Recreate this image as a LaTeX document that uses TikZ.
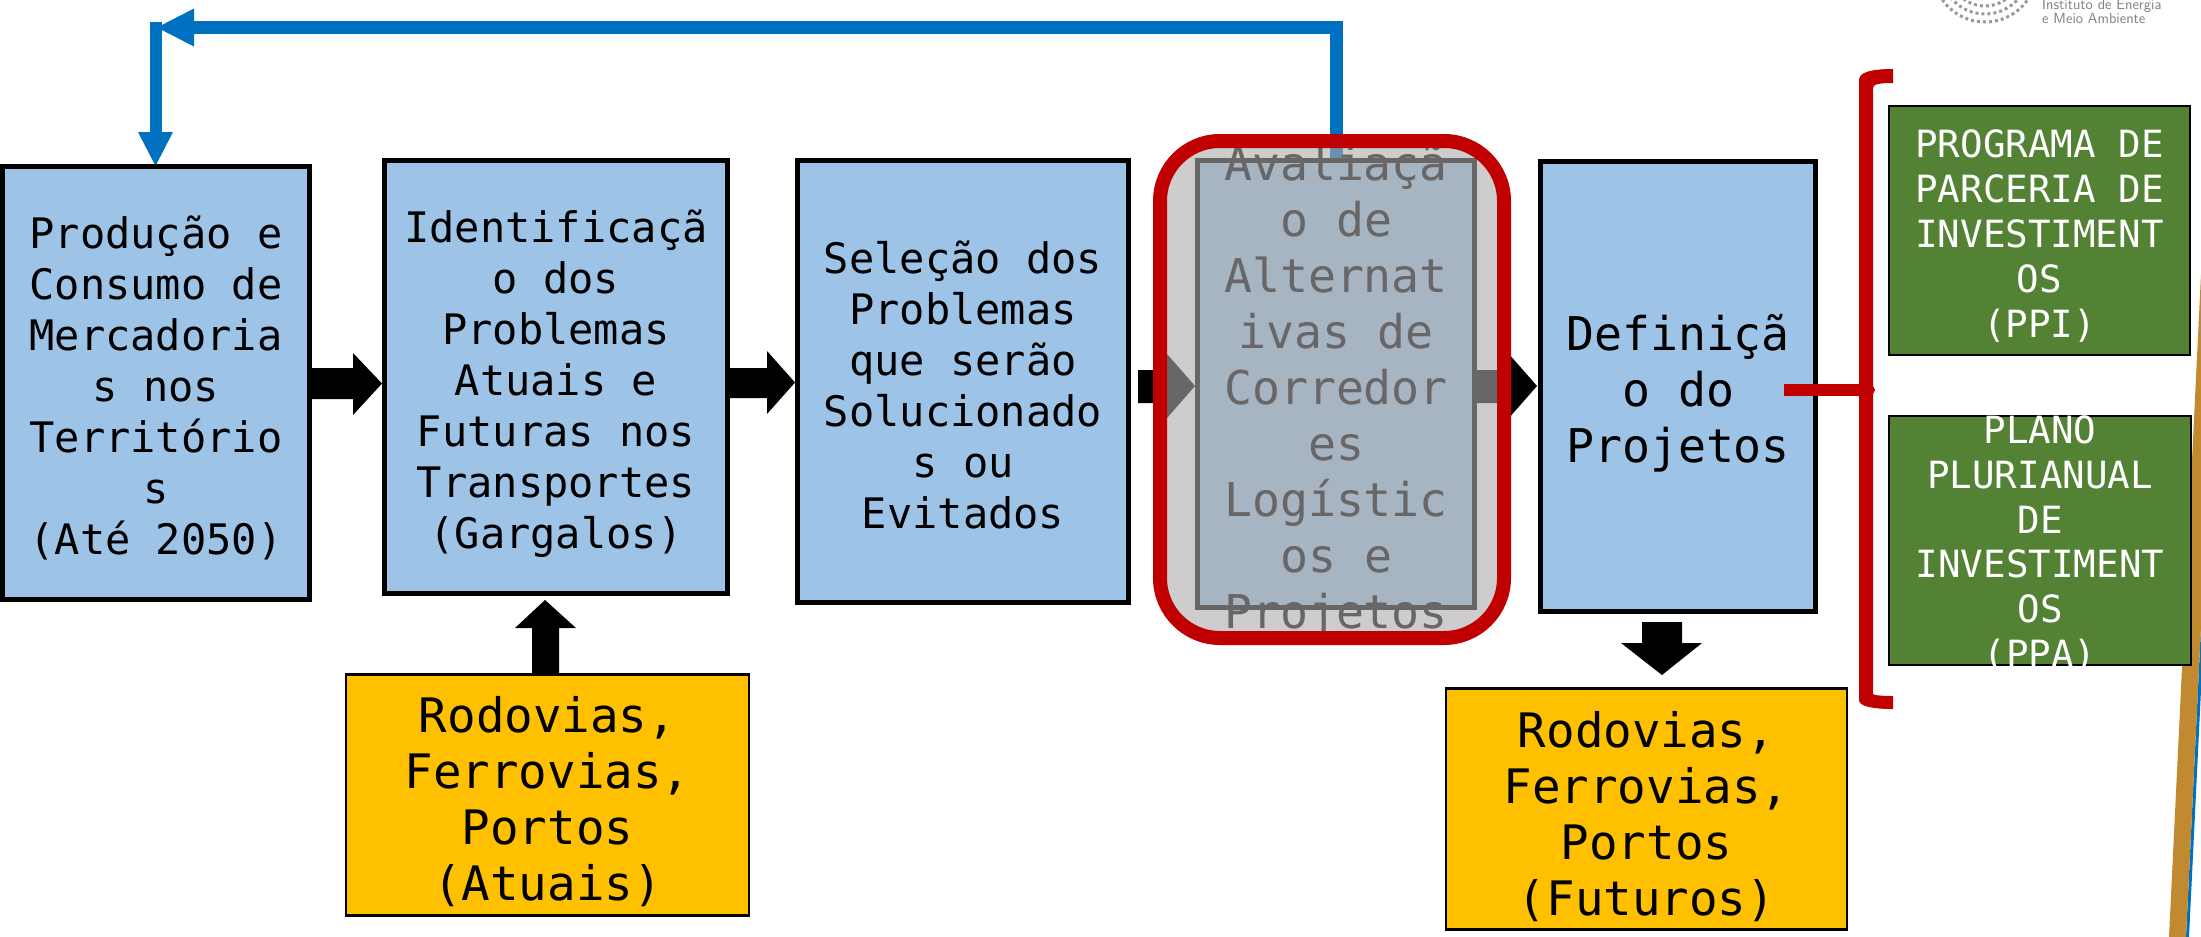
\documentclass[tikz,border=0pt]{standalone}
\usepackage{fontspec}
\setmonofont{DejaVu Sans Mono}
\usepackage{tikz}
\usetikzlibrary{positioning}

\definecolor{boxblue}{HTML}{9DC3E6}
\definecolor{boxgreen}{HTML}{548235}
\definecolor{boxyellow}{HTML}{FFC000}
\definecolor{loopblue}{HTML}{0070C0}
\definecolor{markred}{HTML}{C00000}
\definecolor{veilgray}{HTML}{AEAAAA}
\definecolor{stripbrown}{HTML}{C18A30}

\tikzset{
  etapa/.style={draw=black,line width=5pt,fill=boxblue,inner sep=0pt,outer sep=0pt,anchor=north west},
  fonte/.style={draw=black,line width=2.5pt,fill=boxyellow,inner sep=0pt,outer sep=0pt,anchor=north west},
  plano/.style={draw=black,line width=2.5pt,fill=boxgreen,inner sep=0pt,outer sep=0pt,anchor=north west},
  rotulo/.style={inner sep=0pt,align=center},
  rotuloetapa/.style={rotulo,font=\ttfamily\fontsize{42}{51}\selectfont},
  rotulogrande/.style={rotulo,font=\ttfamily\fontsize{46.5}{56}\selectfont},
  rotulofonte/.style={rotulo,font=\ttfamily\fontsize{47.5}{56}\selectfont},
  rotuloplano/.style={rotulo,text=white,font=\ttfamily\fontsize{37.5}{44.8}\selectfont},
  seta/.style={fill=black},
  volta/.style={draw=loopblue,line width=12.5pt},
  pontaazul/.style={fill=loopblue}
}

\begin{document}
\begin{tikzpicture}[x=1pt,y=-1pt]
\useasboundingbox (0,0) rectangle (2201,937);

% faixa da direita
\fill[loopblue] (2201,626) -- (2186,937) -- (2189,937) -- (2201,690) -- cycle;
\fill[stripbrown] (2201,274) -- (2169,937) -- (2186,937) -- (2201,626) -- cycle;

% logo
\foreach \r in {36,44,52}{
  \draw[gray!80,line width=3pt,dash pattern=on 3pt off 3pt] (1985,-30) ++(165:\r) arc (165:15:\r);
}
\node[text=gray,inner sep=0pt,anchor=north west,align=left,
  font=\sffamily\fontsize{14.8}{12.5}\selectfont] (logo) at (2042,-1) {Instituto de Energia\\e Meio Ambiente};

% retorno
\coordinate (cantoa) at (1336.5,27.5);
\draw[volta] (1336.5,161) -- (cantoa) -- (190,27.5);
\draw[volta] (156,22) -- (156,135);
\fill[pontaazul] (157,27.5) -- (194,8.5) -- (194,46.5) -- cycle;
\fill[pontaazul] (155.5,166) -- (138,132) -- (173,132) -- cycle;

% caixas
\node[etapa,minimum width=307pt,minimum height=433pt] (producao) at (2.5,166.5) {};
\node[rotuloetapa] (textoproducao) at ([yshift=-4.5pt]producao.center)
  {Produção e\\Consumo de\\Mercadoria\\s nos\\Território\\s\\(Até 2050)};
\node[etapa,minimum width=343pt,minimum height=433pt] (problemas) at (384.5,160.5) {};
\node[rotuloetapa] (textoproblemas) at ([yshift=-6.5pt]problemas.center)
  {Identificaçã\\o dos\\Problemas\\Atuais e\\Futuras nos\\Transportes\\(Gargalos)};
\node[etapa,minimum width=331pt,minimum height=442pt] (selecao) at (797.5,160.5) {};
\node[rotuloetapa] (textoselecao) at ([yshift=-3pt]selecao.center)
  {Seleção dos\\Problemas\\que serão\\Solucionado\\s ou\\Evitados};
\node[etapa,minimum width=277pt,minimum height=446.5pt] (alternativas) at (1197.5,160.5) {};
\node[rotulogrande] (textoalternativas) at (1336,391.5)
  {Avaliaçã\\o de\\Alternat\\ivas de\\Corredor\\es\\Logístic\\os e\\Projetos};
\node[etapa,minimum width=275pt,minimum height=450pt] (definicao) at (1540.5,161.5) {};
\node[rotulogrande] (textodefinicao) at ([yshift=-7pt]definicao.center)
  {Definiçã\\o do\\Projetos};

\node[fonte,minimum width=403pt,minimum height=241pt] (atuais) at (346,674.5) {};
\node[rotulofonte] (textoatuais) at ([yshift=-7pt]atuais.center)
  {Rodovias,\\Ferrovias,\\Portos\\(Atuais)};
\node[fonte,minimum width=401pt,minimum height=241pt] (futuros) at (1446,688.5) {};
\node[rotulofonte] (textofuturos) at ([yshift=-8pt]futuros.center)
  {Rodovias,\\Ferrovias,\\Portos\\(Futuros)};
\node[plano,minimum width=301pt,minimum height=249pt] (ppi) at (1889,106) {};
\node[rotuloplano] (textoppi) at ([yshift=-5.5pt]ppi.center)
  {PROGRAMA DE\\PARCERIA DE\\INVESTIMENT\\OS\\(PPI)};
\node[plano,minimum width=302pt,minimum height=249pt] (ppa) at (1889,416) {};
\node[rotuloplano] (textoppa) at (2040,544)
  {PLANO\\PLURIANUAL\\DE\\INVESTIMENT\\OS\\(PPA)};

% setas
\fill[seta] (producao.east |- 0,368) -- (353,368) -- (353,353) -- (382,383.5) -- (353,415) -- (353,399) -- (producao.east |- 0,399) -- cycle;
\fill[seta] (problemas.east |- 0,368) -- (767,368) -- (767,351) -- (795,382.5) -- (767,414) -- (767,398) -- (problemas.east |- 0,398) -- cycle;
\fill[seta] (1138,370) -- (1167,370) -- (1167,354) -- (1195,386) -- (1167,418) -- (1167,403) -- (1138,403) -- cycle;
\fill[seta] (1477,370) -- (1508,370) -- (1508,353) -- (1537,386) -- (1508,419) -- (1508,403) -- (1477,403) -- cycle;
\fill[seta] (532,674) -- (532,628) -- (515,628) -- (545,600) -- (576,628) -- (559,628) -- (559,674) -- cycle;
\fill[seta] (1642,622) -- (1682,622) -- (1682,643) -- (1702,643) -- (1662,675) -- (1621,643) -- (1642,643) -- cycle;

% destaque
\draw[markred,line width=14pt,rounded corners=60pt,fill=veilgray,fill opacity=0.6]
  (1160,141) rectangle (1504,638);

% chave
\coordinate (inicio) at (1784,390);
\coordinate (chave) at (1862,390);
\draw[markred,line width=12pt] (inicio) -- (chave);
\fill[markred] (1893,69) -- (1893,83) .. controls (1880,83) and (1873,84) .. (1873,88)
  -- (1873,386) -- (1875,390) -- (1873,394) -- (1873,694) .. controls (1873,695) and (1880,696) .. (1893,696)
  -- (1893,709) .. controls (1875,709) and (1859,707) .. (1859,700) -- (1859,396) -- (1855,396) -- (1855,384) -- (1859,384)
  -- (1859,80) .. controls (1859,72) and (1872,69) .. (1893,69) -- cycle;
\end{tikzpicture}
\end{document}
